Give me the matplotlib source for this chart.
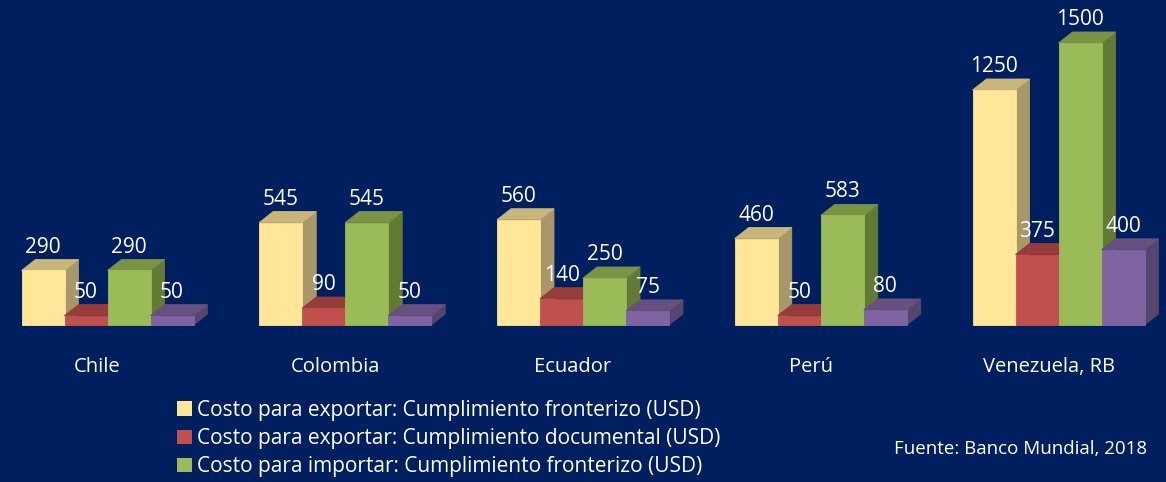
"""3D-style grouped bars: border compliance costs, Andean countries"""
import matplotlib
matplotlib.use('Agg')
import matplotlib.pyplot as plt
from matplotlib.patches import Polygon, Patch

plt.rcParams['font.family'] = ['Open Sans', 'DejaVu Sans']

countries = ['Chile', 'Colombia', 'Ecuador', 'Perú', 'Venezuela, RB']
export_border = [290, 545, 560, 460, 1250]
export_docs = [50, 90, 140, 50, 375]
import_border = [290, 545, 250, 583, 1500]
import_docs = [50, 50, 75, 80, 400]

series_names = [
    'Costo para exportar: Cumplimiento fronterizo (USD)',
    'Costo para exportar: Cumplimiento documental (USD)',
    'Costo para importar: Cumplimiento fronterizo (USD)',
    'Costo para importar: Cumplimiento documental (USD)',
]
series = [export_border, export_docs, import_border, import_docs]

# (front, top, side) shades per series
shades = [
    ('#FFE699', '#C9B67A', '#A89868'),
    ('#C0504D', '#963C3A', '#873533'),
    ('#9BBB59', '#7A9445', '#637A35'),
    ('#8064A2', '#65507F', '#56466D'),
]
bg = '#001F5F'

W_PX, H_PX = 1166, 482
group_px = 237.75      # px between groups
px_per_unit = 0.188    # px per USD
base_px = 325          # baseline from top
first_px = 107.5       # centre of first group front

bar_w = 43 / group_px
dx = 14 / group_px
dy = 11 / px_per_unit

fig = plt.figure(figsize=(W_PX / 100, H_PX / 100), dpi=100)
fig.patch.set_facecolor(bg)
ax = fig.add_axes([0, 0, 1, 1])
ax.set_facecolor(bg)
ax.set_xlim(-first_px / group_px, (W_PX - first_px) / group_px)
ax.set_ylim(-(H_PX - base_px) / px_per_unit, base_px / px_per_unit)
ax.set_axis_off()

for i, country in enumerate(countries):
    for k, vals in enumerate(series):
        v = vals[i]
        front, top, side = shades[k]
        x0 = i - 2 * bar_w + k * bar_w
        x1 = x0 + bar_w
        ax.add_patch(Polygon([(x1, 0), (x1 + dx, dy), (x1 + dx, v + dy), (x1, v)],
                             closed=True, fc=side, ec=side, lw=0.6))
        ax.add_patch(Polygon([(x0, v), (x1, v), (x1 + dx, v + dy), (x0 + dx, v + dy)],
                             closed=True, fc=top, ec=top, lw=0.6))
        ax.add_patch(Polygon([(x0, 0), (x1, 0), (x1, v), (x0, v)],
                             closed=True, fc=front, ec=front, lw=0.6))
        ax.annotate(str(v), xy=(x0 + bar_w / 2, v + dy), xytext=(0, 5),
                    textcoords='offset points', ha='center', va='baseline',
                    color='white', fontsize=15)
    ax.text(i - 10 / group_px, -42 / px_per_unit, country, ha='center', va='center',
            color='white', fontsize=14.5)

handles = [Patch(facecolor=shades[k][0], edgecolor='none') for k in range(3)]
fig.legend(handles, series_names[:3], loc='upper left',
           bbox_to_anchor=(177 / W_PX, 1 - 400 / H_PX), frameon=False,
           fontsize=15, labelcolor='white', handlelength=0.7, handleheight=0.7,
           handletextpad=0.25, labelspacing=0.34, borderpad=0, borderaxespad=0)

fig.text(1147 / W_PX, 1 - 449 / H_PX, 'Fuente: Banco Mundial, 2018', ha='right',
         va='center', color='white', fontsize=13.5)

fig.savefig('out.png', dpi=100, facecolor=bg)
